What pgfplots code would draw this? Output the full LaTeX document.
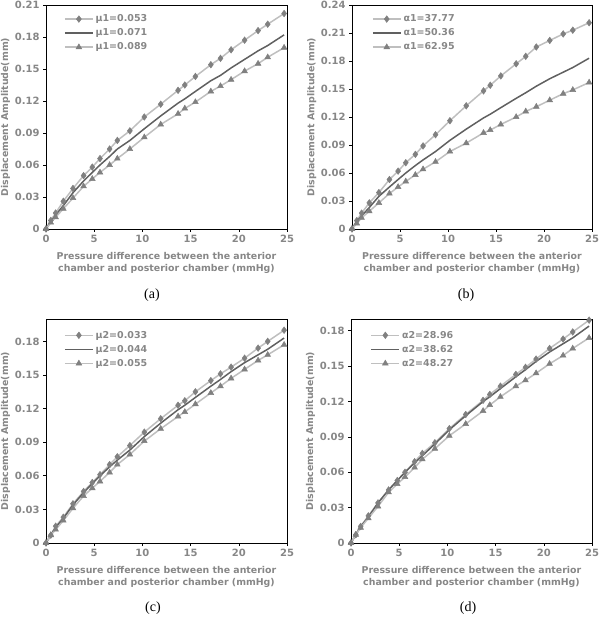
\documentclass[border=0pt]{standalone}
\usepackage{fontspec}
\setmainfont{DejaVu Sans}
\newfontfamily\serif{Liberation Serif}
\usepackage{pgfplots}
\usepackage{pgfplotstable}
\pgfplotsset{compat=1.18}
\definecolor{lgray}{RGB}{191,191,191}
\definecolor{mgray}{RGB}{128,128,128}
\definecolor{dgray}{RGB}{96,96,96}
\definecolor{tgray}{RGB}{135,135,135}

\pgfplotstableread{
x s1 s2 s3
0 0 0 0
0.5 0.008 0.007 0.006
1.0 0.015 0.013 0.011
1.8 0.026 0.022 0.019
2.8 0.038 0.034 0.029
3.9 0.050 0.045 0.040
4.8 0.058 0.053 0.047
5.6 0.066 0.060 0.053
6.6 0.075 0.068 0.060
7.4 0.083 0.075 0.066
8.7 0.092 0.083 0.075
10.2 0.105 0.094 0.086
11.9 0.117 0.106 0.098
13.7 0.130 0.118 0.108
14.4 0.135 0.122 0.113
15.5 0.143 0.129 0.119
17.1 0.154 0.139 0.129
18.1 0.160 0.144 0.134
19.2 0.168 0.151 0.140
20.6 0.177 0.159 0.148
22.0 0.186 0.167 0.155
23.0 0.192 0.172 0.161
24.7 0.202 0.182 0.170
}\tabA
\pgfplotstableread{
x s1 s2 s3
0 0 0 0
0.5 0.009 0.008 0.006
1.0 0.017 0.014 0.012
1.8 0.028 0.023 0.019
2.8 0.039 0.035 0.028
3.9 0.053 0.045 0.038
4.8 0.062 0.053 0.045
5.6 0.071 0.060 0.051
6.6 0.080 0.068 0.058
7.4 0.089 0.074 0.064
8.7 0.101 0.083 0.072
10.2 0.116 0.095 0.083
11.9 0.132 0.107 0.092
13.7 0.148 0.119 0.103
14.4 0.154 0.123 0.106
15.5 0.164 0.130 0.112
17.1 0.177 0.140 0.120
18.1 0.185 0.146 0.126
19.2 0.195 0.153 0.131
20.6 0.202 0.161 0.138
22.0 0.209 0.168 0.145
23.0 0.213 0.173 0.149
24.7 0.221 0.183 0.157
}\tabB
\pgfplotstableread{
x s1 s2 s3
0 0 0 0
0.5 0.007 0.007 0.007
1.0 0.015 0.014 0.012
1.8 0.023 0.022 0.020
2.8 0.035 0.034 0.031
3.9 0.046 0.045 0.042
4.8 0.054 0.053 0.049
5.6 0.061 0.060 0.055
6.6 0.070 0.068 0.063
7.4 0.077 0.074 0.070
8.7 0.087 0.083 0.079
10.2 0.099 0.095 0.091
11.9 0.111 0.107 0.102
13.7 0.123 0.119 0.113
14.4 0.127 0.123 0.117
15.5 0.135 0.130 0.124
17.1 0.145 0.140 0.134
18.1 0.151 0.146 0.140
19.2 0.157 0.153 0.147
20.6 0.165 0.161 0.155
22.0 0.174 0.168 0.163
23.0 0.180 0.173 0.168
24.7 0.190 0.183 0.177
}\tabC
\pgfplotstableread{
x s1 s2 s3
0 0 0 0
0.5 0.007 0.007 0.007
1.0 0.014 0.014 0.013
1.8 0.023 0.022 0.021
2.8 0.034 0.034 0.031
3.9 0.045 0.045 0.043
4.8 0.053 0.053 0.050
5.6 0.060 0.060 0.056
6.6 0.069 0.068 0.064
7.4 0.076 0.074 0.071
8.7 0.085 0.084 0.080
10.2 0.097 0.096 0.091
11.9 0.109 0.108 0.101
13.7 0.121 0.120 0.112
14.4 0.126 0.124 0.117
15.5 0.133 0.131 0.124
17.1 0.143 0.141 0.133
18.1 0.149 0.147 0.138
19.2 0.156 0.154 0.144
20.6 0.165 0.162 0.152
22.0 0.173 0.169 0.159
23.0 0.179 0.174 0.165
24.7 0.189 0.184 0.174
}\tabD

\pgfplotsset{
 panel/.style={
  scale only axis, width=241pt, height=224pt, anchor=south west,
  xmin=0, xmax=25, ymin=0, xtick={0,5,...,25},
  axis line style={black, line width=0.7pt},
  tick align=outside, xtick pos=left, ytick pos=left,
  major tick length=3pt, tick style={black, line width=0.6pt},
  ticklabel style={font=\bfseries\fontsize{10}{12}\selectfont, text=tgray},
  /pgf/number format/assume math mode=true,
  yticklabel style={/pgf/number format/fixed, /pgf/number format/precision=2},
  scaled y ticks=false,
  xlabel={Pressure difference between the anterior\\chamber and posterior chamber (mmHg)},
  ylabel={Displacement Amplitude(mm)},
  xlabel style={font=\bfseries\fontsize{9.4}{12}\selectfont, text=tgray, align=center, at={(axis description cs:0.5,-0.105)}, anchor=north, inner sep=0pt},
  ylabel style={font=\bfseries\fontsize{9.4}{12}\selectfont, text=tgray, at={(axis description cs:-0.168,0.5)}, anchor=center, inner sep=0pt},
  legend style={draw=none, fill=none, font=\bfseries\fontsize{9.5}{11}\selectfont, text=tgray, anchor=north west, row sep=1.5pt},
  legend cell align=left,
  legend image code/.code={\draw[mark repeat=2, mark phase=2, ##1] plot coordinates {(0pt,0pt) (14pt,0pt) (28pt,0pt)};},
 },
 s1/.style={lgray, line width=1.5pt, mark=diamond*, mark size=3.3pt, mark options={fill=mgray, draw=mgray, solid, line width=0.5pt}},
 s2/.style={dgray, line width=1.5pt, no markers},
 s3/.style={lgray, line width=1.5pt, mark=triangle*, mark size=3.3pt, mark options={fill=mgray, draw=mgray, solid, line width=0.5pt}},
}

\begin{document}
\begin{tikzpicture}
\path[use as bounding box] (0pt,0pt) rectangle (600pt,618pt);

\begin{axis}[panel, at={(46pt,389pt)}, ymax=0.21, ytick={0,0.03,...,0.22},
  legend style={at={(0.062,0.975)}}]
\addplot[s1] table[x=x,y=s1] {\tabA}; \addlegendentry{μ1=0.053}
\addplot[s2] table[x=x,y=s2] {\tabA}; \addlegendentry{μ1=0.071}
\addplot[s3] table[x=x,y=s3] {\tabA}; \addlegendentry{μ1=0.089}
\end{axis}

\begin{axis}[panel, at={(352pt,389pt)}, width=240pt, ymax=0.24, ytick={0,0.03,...,0.25},
  legend style={at={(0.07,0.975)}}]
\addplot[s1] table[x=x,y=s1] {\tabB}; \addlegendentry{α1=37.77}
\addplot[s2] table[x=x,y=s2] {\tabB}; \addlegendentry{α1=50.36}
\addplot[s3] table[x=x,y=s3] {\tabB}; \addlegendentry{α1=62.95}
\end{axis}

\begin{axis}[panel, at={(46pt,75pt)}, ymax=0.2, ytick={0,0.03,...,0.19},
  legend style={at={(0.062,0.965)}}]
\addplot[s1] table[x=x,y=s1] {\tabC}; \addlegendentry{μ2=0.033}
\addplot[s2] table[x=x,y=s2] {\tabC}; \addlegendentry{μ2=0.044}
\addplot[s3] table[x=x,y=s3] {\tabC}; \addlegendentry{μ2=0.055}
\end{axis}

\begin{axis}[panel, at={(351pt,75pt)}, ymax=0.19, ytick={0,0.03,...,0.19},
  legend style={at={(0.068,0.965)}}]
\addplot[s1] table[x=x,y=s1] {\tabD}; \addlegendentry{α2=28.96}
\addplot[s2] table[x=x,y=s2] {\tabD}; \addlegendentry{α2=38.62}
\addplot[s3] table[x=x,y=s3] {\tabD}; \addlegendentry{α2=48.27}
\end{axis}

\node[font=\serif\fontsize{14}{16}\selectfont] at (152pt,323pt) {(a)};
\node[font=\serif\fontsize{14}{16}\selectfont] at (466pt,323pt) {(b)};
\node[font=\serif\fontsize{14}{16}\selectfont] at (153pt,10pt) {(c)};
\node[font=\serif\fontsize{14}{16}\selectfont] at (468pt,10pt) {(d)};
\end{tikzpicture}
\end{document}
